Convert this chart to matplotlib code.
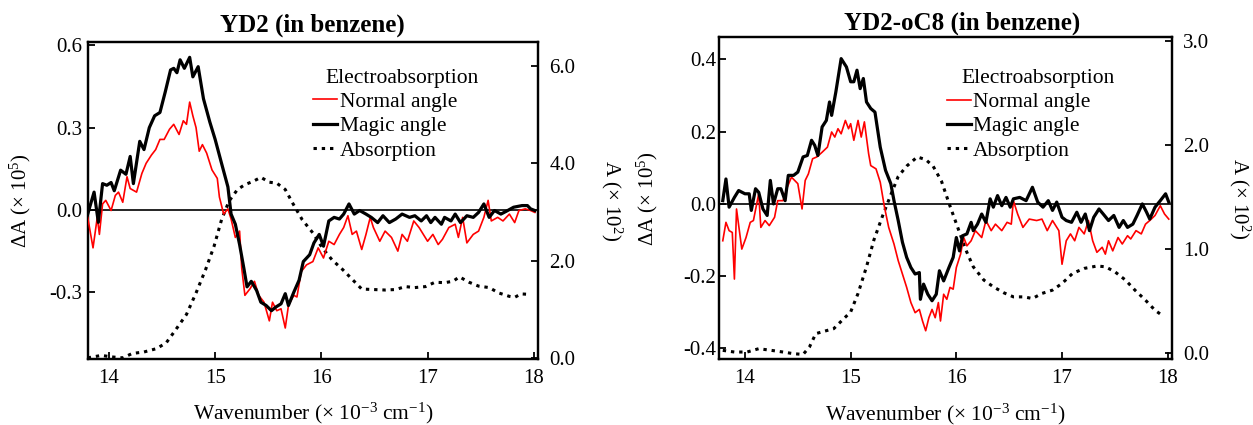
import numpy as np
import matplotlib
matplotlib.use("Agg")
import matplotlib.pyplot as plt

plt.rcParams["font.family"] = ["Liberation Serif", "DejaVu Serif"]
plt.rcParams["mathtext.fontset"] = "custom"
plt.rcParams["mathtext.rm"] = "Liberation Serif"
plt.rcParams["mathtext.it"] = "Liberation Serif:italic"
plt.rcParams["axes.unicode_minus"] = False

# ---- YD2 (in benzene) ----
yd2_magic_x = [13.80, 13.86, 13.90, 13.94, 13.98, 14.02, 14.05, 14.09, 14.11, 14.16,
               14.20, 14.23, 14.29, 14.33, 14.38, 14.43, 14.48, 14.53, 14.58, 14.61,
               14.64, 14.67, 14.71, 14.76, 14.79, 14.84, 14.89, 14.95, 15.00, 15.06,
               15.12, 15.15, 15.19, 15.23, 15.27, 15.30, 15.34, 15.39, 15.43, 15.48,
               15.53, 15.57, 15.62, 15.66, 15.69, 15.74, 15.79, 15.83, 15.89, 15.93,
               15.98, 16.02, 16.07, 16.12, 16.17, 16.21, 16.26, 16.31, 16.36, 16.42,
               16.47, 16.53, 16.58, 16.64, 16.70, 16.76, 16.83, 16.88, 16.94, 16.99,
               17.03, 17.07, 17.13, 17.16, 17.22, 17.26, 17.31, 17.37, 17.43, 17.48,
               17.53, 17.58, 17.63, 17.69, 17.74, 17.81, 17.89, 17.94, 17.97, 18.01]
yd2_magic_y = [-0.015, 0.065, -0.045, 0.096, 0.090, 0.100, 0.070, 0.120, 0.145, 0.130,
               0.195, 0.096, 0.250, 0.220, 0.300, 0.343, 0.355, 0.430, 0.510, 0.516,
               0.500, 0.547, 0.516, 0.556, 0.485, 0.522, 0.405, 0.320, 0.257, 0.170,
               0.084, -0.015, -0.052, -0.126, -0.212, -0.280, -0.260, -0.293, -0.336, -0.348,
               -0.367, -0.354, -0.342, -0.305, -0.348, -0.300, -0.256, -0.188, -0.163, -0.120,
               -0.089, -0.132, -0.040, -0.027, -0.033, -0.015, 0.022, -0.015, -0.002, -0.015,
               -0.027, -0.046, -0.021, -0.046, -0.033, -0.015, -0.027, -0.021, -0.040, -0.021,
               -0.046, -0.027, -0.052, -0.027, -0.040, -0.015, -0.046, -0.021, -0.027, -0.009,
               0.022, -0.027, -0.002, -0.015, -0.005, 0.010, 0.016, 0.016, 0.004, -0.002]

yd2_normal_x = [13.80, 13.85, 13.89, 13.91, 13.94, 13.97, 14.02, 14.06, 14.09, 14.13,
                14.17, 14.20, 14.26, 14.31, 14.35, 14.40, 14.44, 14.48, 14.52, 14.57,
                14.61, 14.66, 14.70, 14.73, 14.76, 14.79, 14.82, 14.85, 14.88, 14.92,
                14.97, 15.02, 15.04, 15.08, 15.12, 15.15, 15.19, 15.23, 15.25, 15.28,
                15.33, 15.37, 15.41, 15.46, 15.51, 15.54, 15.58, 15.62, 15.66, 15.69,
                15.74, 15.77, 15.81, 15.86, 15.92, 15.97, 16.02, 16.07, 16.12, 16.17,
                16.21, 16.25, 16.29, 16.33, 16.38, 16.42, 16.46, 16.49, 16.55, 16.60,
                16.66, 16.72, 16.76, 16.81, 16.87, 16.92, 16.96, 17.00, 17.05, 17.10,
                17.14, 17.20, 17.26, 17.29, 17.33, 17.37, 17.43, 17.48, 17.53, 17.57,
                17.60, 17.66, 17.71, 17.77, 17.82, 17.86, 17.92, 17.97, 18.01]
yd2_normal_y = [-0.027, -0.138, -0.027, -0.089, 0.022, 0.035, -0.002, 0.053, 0.065, 0.028,
                0.121, 0.078, 0.065, 0.133, 0.170, 0.200, 0.220, 0.257, 0.257, 0.294,
                0.312, 0.275, 0.325, 0.312, 0.393, 0.343, 0.300, 0.214, 0.238, 0.207,
                0.146, 0.115, 0.047, -0.015, 0.004, -0.033, -0.100, -0.077, -0.212, -0.311,
                -0.286, -0.260, -0.311, -0.336, -0.404, -0.336, -0.367, -0.360, -0.430, -0.348,
                -0.311, -0.317, -0.225, -0.200, -0.188, -0.138, -0.175, -0.114, -0.126, -0.089,
                -0.064, -0.021, -0.089, -0.077, -0.144, -0.089, -0.027, -0.064, -0.114, -0.077,
                -0.100, -0.150, -0.089, -0.114, -0.040, -0.064, -0.089, -0.114, -0.089, -0.126,
                -0.107, -0.064, -0.052, -0.100, -0.027, -0.120, -0.089, -0.077, -0.027, 0.035,
                -0.040, -0.027, -0.040, -0.015, -0.046, -0.002, 0.004, -0.002, -0.009]

yd2_abs_x = [13.80, 13.93, 14.02, 14.13, 14.22, 14.33, 14.45, 14.54, 14.63, 14.73,
             14.82, 14.91, 14.99, 15.06, 15.13, 15.21, 15.28, 15.36, 15.43, 15.51,
             15.58, 15.66, 15.73, 15.82, 15.92, 16.01, 16.10, 16.20, 16.29, 16.38,
             16.49, 16.60, 16.70, 16.79, 16.88, 16.98, 17.07, 17.16, 17.24, 17.30,
             17.39, 17.48, 17.58, 17.67, 17.77, 17.82, 17.88, 17.97]
yd2_abs_y = [0.01, 0.06, 0.03, 0.01, 0.10, 0.13, 0.20, 0.32, 0.59, 0.90,
             1.34, 1.82, 2.30, 2.84, 3.22, 3.46, 3.56, 3.63, 3.71, 3.61,
             3.59, 3.46, 3.18, 2.84, 2.57, 2.26, 2.02, 1.82, 1.62, 1.42,
             1.41, 1.40, 1.41, 1.47, 1.45, 1.47, 1.56, 1.55, 1.58, 1.67,
             1.56, 1.48, 1.45, 1.34, 1.27, 1.25, 1.32, 1.31]

# ---- YD2-oC8 (in benzene) ----
oc8_magic_x = [13.79, 13.82, 13.85, 13.90, 13.94, 14.00, 14.04, 14.06, 14.10, 14.13,
               14.17, 14.21, 14.24, 14.27, 14.31, 14.34, 14.38, 14.41, 14.46, 14.50,
               14.55, 14.59, 14.63, 14.66, 14.69, 14.73, 14.77, 14.80, 14.82, 14.86,
               14.91, 14.96, 15.00, 15.03, 15.06, 15.09, 15.12, 15.15, 15.19, 15.23,
               15.28, 15.33, 15.38, 15.41, 15.45, 15.49, 15.53, 15.57, 15.61, 15.65,
               15.66, 15.69, 15.73, 15.77, 15.81, 15.84, 15.88, 15.93, 15.97, 16.00,
               16.03, 16.06, 16.10, 16.14, 16.16, 16.20, 16.24, 16.28, 16.32, 16.35,
               16.39, 16.43, 16.47, 16.51, 16.54, 16.60, 16.66, 16.72, 16.77, 16.82,
               16.87, 16.91, 16.95, 17.00, 17.04, 17.09, 17.14, 17.18, 17.22, 17.26,
               17.30, 17.35, 17.39, 17.44, 17.49, 17.54, 17.58, 17.62, 17.67, 17.71,
               17.76, 17.80, 17.83, 17.88, 17.93, 17.98, 18.01]
oc8_magic_y = [0.009, 0.069, -0.009, 0.018, 0.037, 0.028, 0.028, -0.018, 0.042, 0.032,
               -0.014, -0.032, 0.065, 0.000, 0.042, 0.042, 0.009, 0.079, 0.079, 0.088,
               0.130, 0.134, 0.176, 0.162, 0.134, 0.213, 0.231, 0.282, 0.245, 0.310,
               0.402, 0.379, 0.338, 0.338, 0.370, 0.319, 0.347, 0.282, 0.264, 0.254,
               0.157, 0.093, 0.056, 0.009, -0.046, -0.106, -0.148, -0.176, -0.194, -0.190,
               -0.264, -0.222, -0.250, -0.268, -0.250, -0.185, -0.213, -0.176, -0.148, -0.093,
               -0.130, -0.088, -0.083, -0.051, -0.074, -0.056, -0.028, -0.051, 0.014, -0.009,
               0.023, -0.005, 0.018, -0.009, 0.014, 0.018, 0.009, 0.046, 0.005, -0.009,
               0.009, -0.018, 0.005, -0.037, -0.046, -0.051, -0.023, -0.051, -0.028, -0.074,
               -0.037, -0.014, -0.028, -0.046, -0.032, -0.065, -0.046, -0.065, -0.056, -0.032,
               0.000, -0.023, -0.042, -0.009, 0.009, 0.028, 0.005]

oc8_normal_x = [13.79, 13.82, 13.85, 13.88, 13.90, 13.92, 13.97, 14.01, 14.05, 14.08,
                14.13, 14.15, 14.19, 14.23, 14.28, 14.31, 14.36, 14.40, 14.44, 14.50,
                14.54, 14.57, 14.60, 14.64, 14.68, 14.73, 14.78, 14.82, 14.85, 14.88,
                14.91, 14.95, 14.98, 15.00, 15.03, 15.07, 15.10, 15.13, 15.17, 15.19,
                15.24, 15.28, 15.32, 15.36, 15.41, 15.45, 15.49, 15.53, 15.57, 15.61,
                15.65, 15.68, 15.71, 15.74, 15.77, 15.80, 15.83, 15.85, 15.88, 15.91,
                15.94, 15.97, 16.00, 16.04, 16.07, 16.10, 16.14, 16.18, 16.24, 16.28,
                16.33, 16.37, 16.43, 16.48, 16.52, 16.54, 16.58, 16.63, 16.69, 16.76,
                16.81, 16.86, 16.91, 16.97, 17.00, 17.04, 17.08, 17.12, 17.16, 17.21,
                17.25, 17.29, 17.33, 17.38, 17.41, 17.44, 17.48, 17.53, 17.57, 17.62,
                17.65, 17.70, 17.75, 17.79, 17.83, 17.88, 17.93, 17.97, 18.01]
oc8_normal_y = [-0.102, -0.051, -0.074, -0.079, -0.208, -0.014, -0.125, -0.093, -0.051, -0.046,
                0.028, -0.065, -0.046, -0.060, -0.037, 0.009, 0.009, 0.046, 0.074, 0.056,
                -0.014, 0.065, 0.083, 0.125, 0.130, 0.143, 0.157, 0.199, 0.185, 0.208,
                0.194, 0.231, 0.208, 0.222, 0.176, 0.231, 0.185, 0.227, 0.139, 0.106,
                0.097, 0.060, -0.009, -0.065, -0.111, -0.157, -0.194, -0.231, -0.273, -0.301,
                -0.292, -0.324, -0.351, -0.315, -0.292, -0.315, -0.273, -0.324, -0.250, -0.264,
                -0.231, -0.236, -0.176, -0.139, -0.093, -0.116, -0.102, -0.074, -0.093, -0.046,
                -0.074, -0.056, -0.074, -0.051, -0.056, 0.009, -0.028, -0.065, -0.042, -0.046,
                -0.042, -0.074, -0.046, -0.074, -0.167, -0.102, -0.083, -0.102, -0.065, -0.083,
                -0.046, -0.102, -0.134, -0.120, -0.139, -0.102, -0.130, -0.093, -0.111, -0.088,
                -0.097, -0.074, -0.083, -0.056, -0.046, -0.032, -0.005, -0.028, -0.042]

oc8_abs_x = [13.79, 13.90, 14.02, 14.13, 14.25, 14.36, 14.46, 14.55, 14.61, 14.67,
             14.75, 14.84, 14.92, 15.00, 15.07, 15.15, 15.22, 15.30, 15.38, 15.45,
             15.53, 15.63, 15.71, 15.78, 15.86, 15.93, 16.01, 16.09, 16.16, 16.26,
             16.35, 16.45, 16.54, 16.64, 16.72, 16.81, 16.91, 17.00, 17.10, 17.21,
             17.33, 17.41, 17.50, 17.60, 17.69, 17.79, 17.88, 17.96]
oc8_abs_y = [0.026, 0.010, 0.010, 0.042, 0.026, 0.010, -0.006, -0.013, 0.058, 0.187,
             0.210, 0.235, 0.316, 0.396, 0.574, 0.831, 1.089, 1.315, 1.524, 1.700,
             1.800, 1.888, 1.863, 1.800, 1.653, 1.444, 1.218, 0.993, 0.831, 0.703,
             0.638, 0.580, 0.541, 0.541, 0.525, 0.574, 0.606, 0.670, 0.767, 0.815,
             0.838, 0.831, 0.783, 0.703, 0.606, 0.509, 0.412, 0.354]

titles = ["YD2 (in benzene)", "YD2-oC8 (in benzene)"]
legend_labels = ["Normal angle", "Magic angle", "Absorption"]
xticks = [14, 15, 16, 17, 18]
yd2_ticks = [-0.3, 0.0, 0.3, 0.6]
yd2_abs_ticks = [0.0, 2.0, 4.0, 6.0]
oc8_ticks = [-0.4, -0.2, 0.0, 0.2, 0.4]
oc8_abs_ticks = [0.0, 1.0, 2.0, 3.0]


def dibujarPanel(fig, rect, normal, magic, absorb, xlim, ylim, ylim2,
                 yticks, yticks2, titulo, titulo_x, titulo_y,
                 leg_x, leg_y, leg_title_x, leg_title_y,
                 lab_left, lab_right, ypad):
    ax = fig.add_axes(rect)
    ax2 = ax.twinx()
    ax.set_zorder(ax2.get_zorder() + 1)
    ax.patch.set_visible(False)

    ax.axhline(0, color="black", linewidth=1.2, zorder=1)
    l_abs, = ax2.plot(absorb[0], absorb[1], color="black",
                      linewidth=2.2, linestyle=(0, (1.1, 1.6)))
    l_norm, = ax.plot(normal[0], normal[1], color="red", linewidth=1.2, zorder=3)
    l_mag, = ax.plot(magic[0], magic[1], color="black", linewidth=2.3, zorder=4)

    ax.set_xlim(*xlim)
    ax.set_ylim(*ylim)
    ax2.set_ylim(*ylim2)

    ax.set_xticks(xticks)
    ax.set_yticks(yticks)
    ax.set_yticklabels([f"{v:.1f}" for v in yticks])
    ax2.set_yticks(yticks2)
    ax2.set_yticklabels([f"{v:.1f}" for v in yticks2])

    ax.tick_params(axis="x", direction="in", length=5, width=1.3,
                   labelsize=15, pad=7)
    ax.tick_params(axis="y", direction="in", length=5, width=1.3,
                   labelsize=15, pad=ypad)
    ax2.tick_params(axis="y", direction="in", length=5, width=1.3,
                    labelsize=15, pad=8)
    for a in (ax, ax2):
        for s in a.spines.values():
            s.set_linewidth(1.6)

    ax.set_xlabel("Wavenumber (× 10$^{-3}$ cm$^{-1}$)", fontsize=15.5, va="center")
    ax.xaxis.set_label_coords(0.5, -0.17)
    ax.set_ylabel("ΔA (× 10$^5$)", fontsize=15, va="center")
    ax.yaxis.set_label_coords(lab_left, 0.5)
    ax2.set_ylabel("A (× 10$^2$)", fontsize=15, rotation=270, va="center")
    ax2.yaxis.set_label_coords(lab_right, 0.5)

    ax.text(titulo_x, titulo_y, titulo, transform=ax.transAxes,
            ha="center", va="center", fontsize=18, fontweight="bold")

    ax.text(leg_title_x, leg_title_y, "Electroabsorption", transform=ax.transAxes,
            ha="left", va="center", fontsize=15.5)
    ax.legend([l_norm, l_mag, l_abs], legend_labels,
              loc="upper left", bbox_to_anchor=(leg_x, leg_y),
              frameon=False, fontsize=15.5, handlelength=1.12,
              handletextpad=0.1, labelspacing=0.2,
              borderpad=0, borderaxespad=0)
    return ax


fig = plt.figure(figsize=(12.53, 4.25), dpi=100)

dibujarPanel(fig, [0.0700, 0.1546, 0.3594, 0.7473],
             (yd2_normal_x, yd2_normal_y), (yd2_magic_x, yd2_magic_y),
             (yd2_abs_x, yd2_abs_y),
             (13.80, 18.04), (-0.544, 0.613), (-0.02, 6.49),
             yd2_ticks, yd2_abs_ticks, titles[0], 0.5, 1.0526,
             0.501, 0.842, 0.529, 0.883, -0.150, 1.164, 4)

dibujarPanel(fig, [0.5738, 0.1546, 0.3615, 0.7576],
             (oc8_normal_x, oc8_normal_y), (oc8_magic_x, oc8_magic_y),
             (oc8_abs_x, oc8_abs_y),
             (13.754, 18.04), (-0.430, 0.461), (-0.06, 3.04),
             oc8_ticks, oc8_abs_ticks, titles[1], 0.536, 1.0444,
             0.503, 0.830, 0.536, 0.871, -0.158, 1.150, 2)

fig.savefig("out.png", dpi=100)
